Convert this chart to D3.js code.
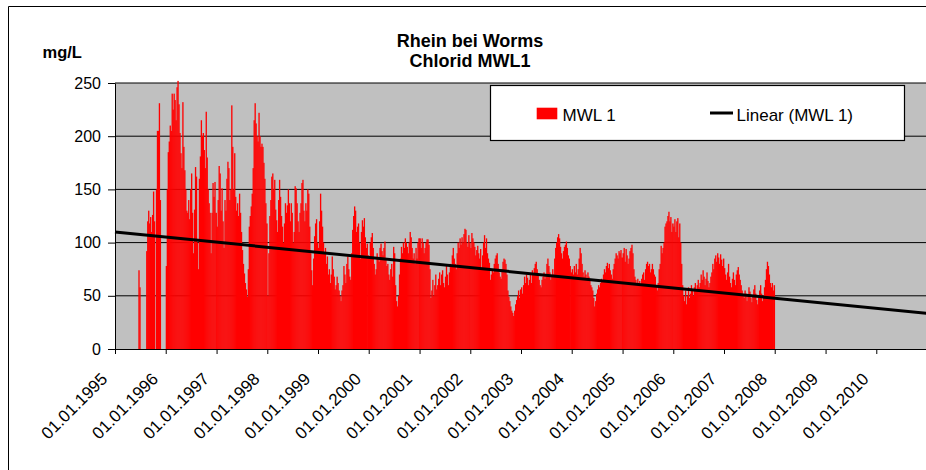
<!DOCTYPE html>
<html>
<head>
<meta charset="utf-8">
<script src="https://cdn.jsdelivr.net/npm/d3@7"></script>
<style>
  html, body { margin: 0; padding: 0; background: #fff; }
  svg { display: block; font-family: "Liberation Sans", Arial, sans-serif; }
</style>
</head>
<body>
<svg id="chart" width="926" height="470"></svg>
<script>
// Weekly chloride readings (mg/L), one array per year, first value on 1 January.
// null = no measurement that week.
const mwl1995 = [null,null,null,null,null,null,null,null,null,null, null,null,null,null,null,null,null,null,null,null, null,null,null,null,74,58,null,null,null,null, null,null,92,120,130,118,124,110,126,148, 120,null,150,205,205,231,140,null,null,null, null,null];
const mwl1996 = [78,150,185,195,210,205,240,225,240,234, 215,246,252,230,203,184,170,232,190,168, 150,130,128,140,122,150,165,128,90,131, 171,162,100,75,160,181,215,200,203,187, 170,223,180,150,137,128,90,128,156,143, 157,128];
const mwl1997 = [115,140,172,165,130,151,120,95,140,130, 160,176,170,140,150,229,190,150,184,143, 130,137,125,146,128,110,93,80,71,62, 56,49,75,115,125,134,146,170,215,231, 212,200,195,222,200,190,193,190,175,160, 137,118];
const mwl1998 = [50,90,125,140,162,165,150,159,131,121, 110,140,159,143,125,115,100,118,137,128, 135,150,137,120,137,128,100,110,153,151, 137,120,110,128,137,156,159,130,120,137, 130,150,146,115,90,74,60,85,106,118, 122,100];
const mwl1999 = [95,120,146,130,115,100,90,95,80,87, 70,75,62,70,87,75,68,56,60,68, 62,55,50,45,55,60,78,70,62,80, 87,75,68,65,90,112,125,134,130,110, 115,118,100,85,110,121,115,123,105,95, 99,88];
const mwl2000 = [87,100,105,109,95,80,70,75,90,85, 82,95,99,92,88,95,101,84,78,80, 70,65,75,80,68,96,90,60,45,40, 50,70,85,96,90,100,95,104,100,96, 90,100,110,105,95,85,90,80,95,85, 100,104];
const mwl2001 = [104,95,104,100,90,95,100,103,103,98, 75,48,55,65,50,60,70,56,60,66, 72,60,70,74,62,58,68,78,70,60, 72,80,78,88,95,85,80,75,90,100, 95,104,98,105,100,108,113,112,100,96, 107,100];
const mwl2002 = [95,109,104,100,96,88,93,97,90,85, 94,75,88,100,107,95,104,90,85,81, 65,70,75,72,80,85,88,90,80,72, 68,66,75,82,85,84,80,70,55,49, 45,40,36,34,31,36,42,46,50,55, 48,56];
const mwl2003 = [58,52,60,68,62,70,67,60,65,70, 62,74,70,76,80,82,75,70,65,60, 58,65,68,72,66,70,80,85,78,72, 65,68,75,70,85,95,100,105,108,104, 96,90,85,92,96,98,101,95,88,85, 78,72];
const mwl2004 = [75,70,78,72,80,70,75,85,95,90, 80,72,68,74,70,66,72,68,64,60, 58,55,48,40,45,52,56,60,58,62, 66,64,70,75,72,78,81,76,80,74, 70,66,75,80,85,90,88,85,92,90, 93,86];
const mwl2005 = [90,95,82,94,88,80,85,92,95,98, 90,75,68,65,62,66,60,64,60,66, 70,72,65,75,80,82,78,80,72,75, 80,75,70,68,60,55,62,75,80,97, 90,95,100,115,118,120,125,129,120,124, 110,118];
const mwl2006 = [115,122,110,120,123,105,118,100,80,60, 50,45,55,42,50,58,48,52,60,55, 50,58,62,55,60,65,58,62,70,65, 74,68,60,66,72,64,58,62,68,72, 80,75,85,88,82,90,86,80,89,84, 78,85];
const mwl2007 = [76,70,65,72,80,68,62,58,66,72, 65,60,70,74,77,70,65,60,55,50, 48,55,52,45,50,58,54,48,44,50, 56,60,52,46,42,48,55,60,52,45, 50,58,65,75,82,78,70,62,58,62, 55,60];

const seriesYears = [1995,1996,1997,1998,1999,2000,2001,2002,2003,2004,2005,2006,2007];
const seriesArrays = [mwl1995,mwl1996,mwl1997,mwl1998,mwl1999,mwl2000,mwl2001,mwl2002,mwl2003,mwl2004,mwl2005,mwl2006,mwl2007];

// Linear trend of the series, given at the two ends of the time axis.
const trendDates = ["1995-01-01", "2011-01-01"];
const trendValues = [110, 33.4];

const yTickValues = [0, 50, 100, 150, 200, 250];
const xTickYears = [1995,1996,1997,1998,1999,2000,2001,2002,2003,2004,2005,2006,2007,2008,2009,2010];

const titleLines = ["Rhein bei Worms", "Chlorid MWL1"];
const unitLabel = "mg/L";
const seriesName = "MWL 1";
const trendName = "Linear (MWL 1)";

// ---- build records ----
const DAY = 86400000;
const records = [];
seriesYears.forEach((yr, i) => {
  seriesArrays[i].forEach((v, k) => {
    if (v == null) return;
    const start = new Date(Date.UTC(yr, 0, 1 + 7 * k));
    const end = k === 51 ? new Date(Date.UTC(yr + 1, 0, 1)) : new Date(start.getTime() + 7 * DAY);
    records.push({ start, end, value: v });
  });
});

const svg = d3.select("#chart");

const x = d3.scaleUtc()
  .domain([new Date(Date.UTC(1995, 0, 1)), new Date(Date.UTC(2011, 0, 1))])
  .range([115, 927]);
const y = d3.scaleLinear().domain([0, 250]).range([349, 83]);

// outer chart frame
svg.append("path")
  .attr("d", "M8.5,470 V6.5 H926")
  .attr("fill", "none").attr("stroke", "#000").attr("stroke-width", 1);

// plot area
svg.append("rect")
  .attr("x", 115).attr("y", y(250))
  .attr("width", 926 - 115).attr("height", y(0) - y(250))
  .attr("fill", "#c0c0c0");

// horizontal gridlines
svg.append("g").selectAll("line")
  .data(yTickValues.filter(v => v > 0))
  .join("line")
  .attr("x1", 115).attr("x2", 926)
  .attr("y1", d => y(d)).attr("y2", d => y(d))
  .attr("stroke", "#000").attr("stroke-width", 1);

// bars
svg.append("g").selectAll("rect")
  .data(records)
  .join("rect")
  .attr("x", d => x(d.start))
  .attr("width", d => x(d.end) - x(d.start) + 0.35)
  .attr("y", d => y(d.value))
  .attr("height", d => y(0) - y(d.value))
  .attr("fill", "#ff0000");

// trend line
const trend = trendDates.map((d, i) => ({ date: new Date(d + "T00:00:00Z"), value: trendValues[i] }));
svg.append("path")
  .datum(trend)
  .attr("d", d3.line().x(d => x(d.date)).y(d => y(d.value)))
  .attr("fill", "none").attr("stroke", "#000").attr("stroke-width", 3);

// y axis
const yAxis = svg.append("g")
  .attr("transform", "translate(115,0)")
  .call(d3.axisLeft(y).tickValues(yTickValues).tickSize(7).tickSizeOuter(0).tickPadding(7));
yAxis.selectAll("text").attr("font-size", 16).attr("fill", "#000").attr("font-family", "Liberation Sans, Arial, sans-serif");
yAxis.selectAll("line, path").attr("stroke", "#000");

// x axis
const fmt = d3.utcFormat("%d.%m.%Y");
const xAxis = svg.append("g")
  .attr("transform", `translate(0,${y(0)})`)
  .call(d3.axisBottom(x)
    .tickValues(xTickYears.map(yr => new Date(Date.UTC(yr, 0, 1))))
    .tickSize(5).tickSizeOuter(0).tickFormat(fmt));
xAxis.select(".domain").attr("d", `M115.5,0.5H926`);
xAxis.selectAll("line, path").attr("stroke", "#000");
xAxis.selectAll("text")
  .attr("x", 0).attr("y", 0).attr("dy", 0)
  .attr("text-anchor", "end")
  .attr("transform", "translate(-7,31) rotate(-45)")
  .attr("font-size", 17).attr("fill", "#000")
  .attr("font-family", "Liberation Sans, Arial, sans-serif");

// titles
svg.append("g").selectAll("text")
  .data(titleLines)
  .join("text")
  .attr("x", 470).attr("y", (d, i) => 46.5 + i * 20.5)
  .attr("text-anchor", "middle")
  .attr("font-size", 18).attr("font-weight", "bold")
  .text(d => d);

svg.append("text")
  .attr("x", 42.5).attr("y", 58)
  .attr("font-size", 16.5).attr("font-weight", "bold")
  .text(unitLabel);

// legend
const legend = svg.append("g");
legend.append("rect")
  .attr("x", 490.5).attr("y", 85.5).attr("width", 414).attr("height", 55)
  .attr("fill", "#fff").attr("stroke", "#000").attr("stroke-width", 1.2);
legend.append("rect")
  .attr("x", 536.7).attr("y", 107.7).attr("width", 20.6).attr("height", 11.6)
  .attr("fill", "#ff0000");
legend.append("text")
  .attr("x", 562.5).attr("y", 120.5)
  .attr("font-size", 17).text(seriesName);
legend.append("line")
  .attr("x1", 710).attr("x2", 733).attr("y1", 113).attr("y2", 113)
  .attr("stroke", "#000").attr("stroke-width", 3);
legend.append("text")
  .attr("x", 736.5).attr("y", 120.5)
  .attr("font-size", 17).text(trendName);
</script>
</body>
</html>
